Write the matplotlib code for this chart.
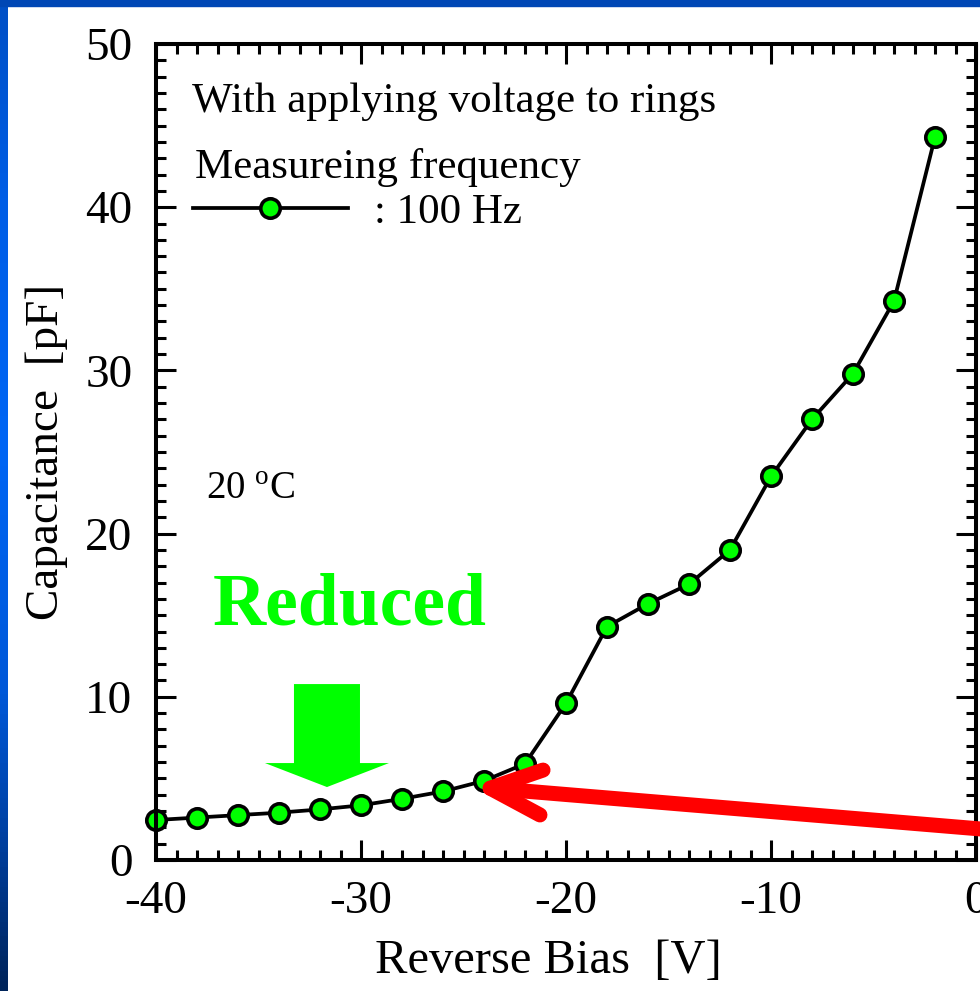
import numpy as np
import matplotlib
matplotlib.use("Agg")
import matplotlib.pyplot as plt
import matplotlib.patches as mpatches
from matplotlib.colors import LinearSegmentedColormap
from matplotlib.ticker import MultipleLocator

plt.rcParams['font.family'] = ['Liberation Serif', 'DejaVu Serif']
plt.rcParams['mathtext.fontset'] = 'custom'
plt.rcParams['mathtext.rm'] = 'Liberation Serif'
plt.rcParams['axes.unicode_minus'] = False

# data
bias = [-40, -38, -36, -34, -32, -30, -28, -26, -24, -22,
        -20, -18, -16, -14, -12, -10, -8, -6, -4, -2]
cap = [2.45, 2.6, 2.75, 2.9, 3.1, 3.35, 3.75, 4.2, 4.85, 5.9,
       9.6, 14.3, 15.7, 16.9, 19.0, 23.5, 27.0, 29.8, 34.25, 44.3]

xticks = [-40, -30, -20, -10, 0]
yticks = [0, 10, 20, 30, 40, 50]

fig = plt.figure(figsize=(9.8, 9.91), dpi=100)
W, H = 980, 991

# blue slide border (top bar + left gradient bar)
fig.patches.append(mpatches.Rectangle((0, 1 - 6 / H), 1, 6 / H, transform=fig.transFigure,
                                      color='#0047b5', zorder=0))
side = fig.add_axes([0, 0, 7 / W, 1])
grad = LinearSegmentedColormap.from_list(
    'side', [(0, '#0050c6'), (0.2, '#005ee6'), (0.45, '#0066f5'),
             (0.7, '#0058d8'), (0.85, '#0040a0'), (1, '#00245a')])
side.imshow(np.linspace(0, 1, 200).reshape(-1, 1), aspect='auto', cmap=grad,
            extent=[0, 1, 1, 0])
side.set_axis_off()

ax = fig.add_axes([156 / W, (H - 860) / H, 820 / W, 816 / H])
ax.plot(bias, cap, color='black', lw=2.7, marker='o', ms=14, mfc='#00ff00',
        mec='black', mew=2.6, clip_on=False, zorder=2, label=': 100 Hz')

ax.set_xlim(-40, 0)
ax.set_ylim(0, 50)
ax.set_xticks(xticks)
ax.set_yticks(yticks)
ax.xaxis.set_minor_locator(MultipleLocator(1))
ax.yaxis.set_minor_locator(MultipleLocator(1))
ax.tick_params(which='both', direction='in', top=True, right=True, width=2.2, labelsize=34)
ax.tick_params(which='major', length=14.4)
ax.tick_params(which='minor', length=7.2)
ax.tick_params(axis='x', pad=15)
ax.tick_params(axis='y', pad=17)
for s in ax.spines.values():
    s.set_linewidth(2.9)

ax.set_xlabel('Reverse Bias  [V]', fontsize=35)
ax.xaxis.set_label_coords(0.479, -0.097)
ax.set_ylabel('Capacitance  [pF]', fontsize=34, labelpad=12)

ax.text(0.044, 0.917, 'With applying voltage to rings', transform=ax.transAxes,
        fontsize=31, va='baseline', ha='left')
ax.text(0.048, 0.836, 'Measureing frequency', transform=ax.transAxes,
        fontsize=31, va='baseline', ha='left')
ax.legend(loc='center left', bbox_to_anchor=(0.045, 0.793), frameon=False,
          fontsize=31, handlelength=3.6, handletextpad=0.6, borderpad=0,
          borderaxespad=0)

ax.text(0.061, 0.442, r'20 $^{\mathrm{o}}$C', transform=ax.transAxes,
        fontsize=28, va='baseline', ha='left')
ax.text(0.0695, 0.288, 'Reduced', transform=ax.transAxes, fontsize=53,
        fontweight='bold', color='#00ff00', va='baseline', ha='left')

# green down arrow
ax.add_patch(mpatches.FancyArrow(-31.66, 10.78, 0, 4.47 - 10.78, width=3.22,
                                 head_width=6.05, head_length=1.47,
                                 length_includes_head=True, color='#00ff00',
                                 lw=0, zorder=1))

# red arrow pointing at the knee
red = dict(color='#ff0000', lw=10.8, solid_capstyle='round',
           solid_joinstyle='round', clip_on=False, zorder=3)
ax.plot([-23.7, 1.2], [4.4, 1.8], **red)
ax.plot([-21.12, -23.7, -21.27], [5.51, 4.4, 2.76], **red)

fig.savefig('out.png', dpi=100)
